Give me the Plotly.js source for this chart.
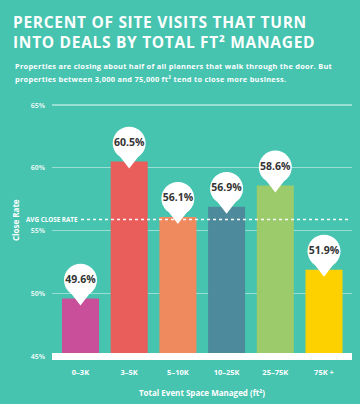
<!DOCTYPE html>
<html><head><meta charset="utf-8">
<script src="https://cdn.plot.ly/plotly-3.0.1.min.js"></script>
<style>body{margin:0;background:#46C4B0;} .gtitle{letter-spacing:0.7px;} g.annotation[data-index="0"] text, g.annotation[data-index="1"] text{letter-spacing:0.28px;}</style>
</head><body><div id="chart" style="width:360px;height:404px;"></div>
<script>
const categories = ["0–3K","3–5K","5–10K","10–25K","25–75K","75K +"];
const closeRate = [49.6, 60.5, 56.1, 56.9, 58.6, 51.9];
const barColors = ["#C94F9B","#E95D5A","#EF8A5E","#4D8B9C","#9CCB6B","#FDD100"];
const avgCloseRate = 55.9;
const yTickVals = [45,50,55,60,65];
const yTickText = ["45%","50%","55%","60%","65%"];

const PX = 12.57; // pixels per 1% at this plot size
const labels = closeRate.map(v => v.toFixed(1) + "%");
const bubbleY = closeRate.map(v => v + 18.4/PX);
const pointerY = closeRate.map(v => v + 0.08);

const bg = "#46C4B0";
const traces = [
  {type:"bar", x:categories, y:closeRate, marker:{color:barColors, line:{width:0}}, width:0.76, hoverinfo:"skip"},
  {type:"scatter", mode:"markers", x:categories, y:pointerY, marker:{symbol:"triangle-down", size:16, color:"#ffffff", line:{width:0}}, hoverinfo:"skip", cliponaxis:false},
  {type:"scatter", mode:"markers+text", x:categories, y:bubbleY, text:labels, textposition:"middle center",
   textfont:{family:"Open Sans", size:10.5, color:"#333333", weight:700},
   marker:{symbol:"circle", size:33, color:"#ffffff", line:{width:0}}, hoverinfo:"skip", cliponaxis:false}
];

const subFont = {family:"Open Sans", size:7.4, color:"#ffffff", weight:700};
const layout = {
  width:360, height:404,
  paper_bgcolor:bg, plot_bgcolor:bg,
  showlegend:false,
  margin:{l:52, r:8, t:95, b:44},
  title:{text:"PERCENT OF SITE VISITS THAT TURN<br>INTO DEALS BY TOTAL FT² MANAGED",
    font:{family:"Open Sans", size:15.5, color:"#ffffff", weight:700},
    x:13/360, xanchor:"left", xref:"container", y:1-28/404, yanchor:"top", yref:"container"},
  xaxis:{range:[-0.585,5.575], showgrid:false, zeroline:false, showline:false, ticks:"",
    tickfont:{family:"Open Sans", size:7.5, color:"#ffffff", weight:700}, ticklabelstandoff:6,
    fixedrange:true,
    title:{text:"Total Event Space Managed (ft²)", font:{family:"Open Sans", size:8, color:"#ffffff", weight:700}, standoff:14}},
  yaxis:{range:[44.71,65.8], tickvals:yTickVals, ticktext:yTickText, showgrid:true,
    gridcolor:"rgba(255,255,255,0.45)", gridwidth:1.2, zeroline:false, showline:false, ticks:"",
    tickfont:{family:"Open Sans", size:7, color:"rgba(255,255,255,0.85)", weight:700}, ticklabelstandoff:6,
    fixedrange:true},
  shapes:[
    {type:"rect", xref:"paper", x0:0, x1:1, yref:"y", y0:44.71, y1:45.27, fillcolor:"#ffffff", line:{width:0}, layer:"above"},
    {type:"line", xref:"paper", x0:(81-52)/300, x1:(350-52)/300, yref:"y", y0:avgCloseRate, y1:avgCloseRate,
     line:{color:"#ffffff", width:1.5, dash:"dot"}, layer:"above"}
  ],
  annotations:[
    {text:"Properties are closing about half of all planners that walk through the door. But",
     xref:"paper", yref:"paper", x:(13-52)/300, y:1+(95-66)/265, xanchor:"left", yanchor:"middle", align:"left",
     showarrow:false, font:subFont},
    {text:"properties between 3,000 and 75,000 ft² tend to close more business.",
     xref:"paper", yref:"paper", x:(13-52)/300, y:1+(95-79)/265, xanchor:"left", yanchor:"middle", align:"left",
     showarrow:false, font:subFont},
    {text:"AVG CLOSE RATE", xref:"paper", yref:"y", x:(80-52)/300, y:avgCloseRate, xanchor:"right", yanchor:"middle",
     showarrow:false, font:{family:"Open Sans", size:6.3, color:"#ffffff", weight:700}},
    {text:"Close Rate", xref:"paper", yref:"paper", x:(15-52)/300, y:(360-220)/265, textangle:-90,
     xanchor:"center", yanchor:"middle", showarrow:false, font:{family:"Open Sans", size:8, color:"#ffffff", weight:700}}
  ]
};
Plotly.newPlot("chart", traces, layout, {displayModeBar:false, staticPlot:true});
</script></body></html>
